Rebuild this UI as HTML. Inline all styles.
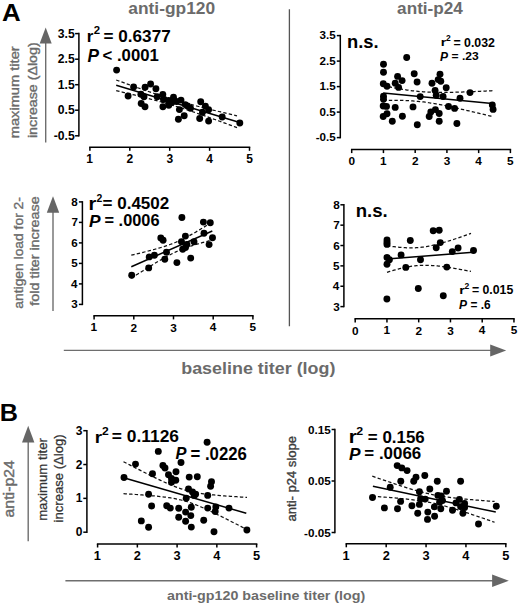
<!DOCTYPE html>
<html><head><meta charset="utf-8"><style>
html,body{margin:0;padding:0;background:#fff;}
svg{display:block;font-family:"Liberation Sans",sans-serif;}
</style></head><body>
<svg width="520" height="605" viewBox="0 0 520 605">
<rect width="520" height="605" fill="#fff"/>
<text transform="matrix(1.08 0 0 1 2.06 20.8)" font-size="23.98" font-weight="bold" fill="#000">A</text>
<text transform="matrix(1.02 0 0 1 -0.19 421.2)" font-size="24.71" font-weight="bold" fill="#000">B</text>
<text transform="matrix(1.06 0 0 1 128.3 13.7)" font-size="16.4" font-weight="bold" fill="#6b6b6b">anti-gp120</text>
<text transform="matrix(1.06 0 0 1 397.1 13.5)" font-size="16.2" font-weight="bold" fill="#6b6b6b">anti-p24</text>
<line x1="289.4" y1="9.2" x2="289.4" y2="326.2" stroke="#555" stroke-width="1.3"/>
<line x1="78.9" y1="32.85" x2="78.9" y2="136.55" stroke="#000" stroke-width="1.5"/>
<line x1="75.1" y1="33.6" x2="78.9" y2="33.6" stroke="#000" stroke-width="1.5"/>
<text transform="matrix(1 0 0 1 57.78 37.79)" font-size="12.2" font-weight="bold" fill="#000">3.5</text>
<line x1="75.1" y1="59.2" x2="78.9" y2="59.2" stroke="#000" stroke-width="1.5"/>
<text transform="matrix(1 0 0 1 57.78 63.4)" font-size="12.2" font-weight="bold" fill="#000">2.5</text>
<line x1="75.1" y1="84.7" x2="78.9" y2="84.7" stroke="#000" stroke-width="1.5"/>
<text transform="matrix(1 0 0 1 57.78 88.84)" font-size="12.2" font-weight="bold" fill="#000">1.5</text>
<line x1="75.1" y1="110.2" x2="78.9" y2="110.2" stroke="#000" stroke-width="1.5"/>
<text transform="matrix(1 0 0 1 57.78 114.4)" font-size="12.2" font-weight="bold" fill="#000">0.5</text>
<line x1="75.1" y1="135.8" x2="78.9" y2="135.8" stroke="#000" stroke-width="1.5"/>
<text transform="matrix(1 0 0 1 53.72 140)" font-size="12.2" font-weight="bold" fill="#000">-0.5</text>
<line x1="89.15" y1="147.2" x2="250.25" y2="147.2" stroke="#000" stroke-width="1.5"/>
<line x1="89.9" y1="147.2" x2="89.9" y2="150.8" stroke="#000" stroke-width="1.5"/>
<text transform="matrix(1 0 0 1 86.35 162.76)" font-size="12" font-weight="bold" fill="#000">1</text>
<line x1="129.8" y1="147.2" x2="129.8" y2="150.8" stroke="#000" stroke-width="1.5"/>
<text transform="matrix(1 0 0 1 126.49 162.88)" font-size="12" font-weight="bold" fill="#000">2</text>
<line x1="169.7" y1="147.2" x2="169.7" y2="150.8" stroke="#000" stroke-width="1.5"/>
<text transform="matrix(1 0 0 1 166.44 162.88)" font-size="12" font-weight="bold" fill="#000">3</text>
<line x1="209.6" y1="147.2" x2="209.6" y2="150.8" stroke="#000" stroke-width="1.5"/>
<text transform="matrix(1 0 0 1 206.2 162.76)" font-size="12" font-weight="bold" fill="#000">4</text>
<line x1="249.5" y1="147.2" x2="249.5" y2="150.8" stroke="#000" stroke-width="1.5"/>
<text transform="matrix(1 0 0 1 246.15 162.76)" font-size="12" font-weight="bold" fill="#000">5</text>
<line x1="45.7" y1="42.5" x2="45.7" y2="142.5" stroke="#6e6e6e" stroke-width="1.4"/>
<polygon points="45.7,27.4 39.7,43.5 51.7,43.5" fill="#666666"/>
<text transform="translate(19.3 138.27) rotate(-90) scale(1.11 1)" font-size="13.2" font-weight="normal" fill="#6b6b6b" stroke="#6b6b6b" stroke-width="0.35">maximum titer</text>
<text transform="translate(37.2 138.05) rotate(-90) scale(1.13 1)" font-size="12.6" font-weight="normal" fill="#6b6b6b" stroke="#6b6b6b" stroke-width="0.35">increase (Δlog)</text>
<text transform="matrix(1.06 0 0 1 86.79 41.7)" font-size="15.96" font-weight="bold" fill="#000">r</text>
<text transform="matrix(1.02 0 0 1 93.8 34.2)" font-size="11.17" font-weight="bold" fill="#000">2</text>
<text transform="matrix(1.02 0 0 1 103.6 41.62)" font-size="16.78" font-weight="bold" fill="#000">= 0.6377</text>
<text transform="matrix(0.98 0 0 1 87.59 61.7)" font-size="17.59" font-weight="bold" font-style="italic" fill="#000">P</text>
<text transform="matrix(0.98 0 0 1 102.5 61.23)" font-size="17.09" font-weight="bold" fill="#000">&lt; .0001</text>
<polyline points="116.2,80 118.21,80.74 120.23,81.47 122.24,82.2 124.25,82.93 126.27,83.66 128.28,84.39 130.29,85.11 132.31,85.83 134.32,86.55 136.33,87.27 138.35,87.98 140.36,88.69 142.37,89.39 144.39,90.09 146.4,90.79 148.41,91.48 150.43,92.17 152.44,92.85 154.45,93.52 156.47,94.19 158.48,94.85 160.49,95.51 162.51,96.16 164.52,96.8 166.53,97.43 168.55,98.06 170.56,98.67 172.57,99.28 174.59,99.88 176.6,100.47 178.61,101.06 180.63,101.63 182.64,102.2 184.65,102.76 186.67,103.31 188.68,103.86 190.69,104.4 192.71,104.93 194.72,105.46 196.73,105.99 198.75,106.51 200.76,107.02 202.77,107.53 204.79,108.04 206.8,108.54 208.81,109.04 210.83,109.53 212.84,110.02 214.85,110.51 216.87,111 218.88,111.49 220.89,111.97 222.91,112.45 224.92,112.93 226.93,113.41 228.95,113.89 230.96,114.36 232.97,114.84 234.99,115.31 237,115.78" fill="none" stroke="#111" stroke-width="1.25" stroke-dasharray="3.4 2.2"/>
<polyline points="116.2,90.6 118.21,91.08 120.23,91.56 122.24,92.04 124.25,92.52 126.27,93 128.28,93.49 130.29,93.98 132.31,94.47 134.32,94.97 136.33,95.46 138.35,95.96 140.36,96.47 142.37,96.98 144.39,97.49 146.4,98 148.41,98.53 150.43,99.05 152.44,99.58 154.45,100.12 156.47,100.67 158.48,101.22 160.49,101.77 162.51,102.34 164.52,102.91 166.53,103.49 168.55,104.08 170.56,104.68 172.57,105.28 174.59,105.89 176.6,106.51 178.61,107.14 180.63,107.78 182.64,108.43 184.65,109.08 186.67,109.74 188.68,110.4 190.69,111.08 192.71,111.76 194.72,112.44 196.73,113.13 198.75,113.82 200.76,114.52 202.77,115.23 204.79,115.93 206.8,116.64 208.81,117.36 210.83,118.07 212.84,118.79 214.85,119.52 216.87,120.24 218.88,120.97 220.89,121.7 222.91,122.43 224.92,123.16 226.93,123.9 228.95,124.64 230.96,125.37 232.97,126.11 234.99,126.85 237,127.59" fill="none" stroke="#111" stroke-width="1.25" stroke-dasharray="3.4 2.2"/>
<line x1="116.2" y1="85.3" x2="239.7" y2="122.5" stroke="#000" stroke-width="1.5"/>
<g fill="#000"><circle cx="116.6" cy="70.1" r="3.45"/><circle cx="133.6" cy="87" r="3.45"/><circle cx="128.1" cy="96" r="3.45"/><circle cx="145.1" cy="87.3" r="3.45"/><circle cx="150.6" cy="84" r="3.45"/><circle cx="155.9" cy="88.8" r="3.45"/><circle cx="140.9" cy="94.3" r="3.45"/><circle cx="144" cy="96.8" r="3.45"/><circle cx="141.2" cy="103.5" r="3.45"/><circle cx="145" cy="106.7" r="3.45"/><circle cx="157.2" cy="96.7" r="3.45"/><circle cx="162.8" cy="94.5" r="3.45"/><circle cx="163.5" cy="99.5" r="3.45"/><circle cx="162.9" cy="106.7" r="3.45"/><circle cx="168.5" cy="100.5" r="3.45"/><circle cx="168.8" cy="105.2" r="3.45"/><circle cx="173.5" cy="97.2" r="3.45"/><circle cx="171.8" cy="102.5" r="3.45"/><circle cx="176.5" cy="101.5" r="3.45"/><circle cx="181" cy="100.1" r="3.45"/><circle cx="185.2" cy="104.6" r="3.45"/><circle cx="179.4" cy="109.6" r="3.45"/><circle cx="184.2" cy="115.7" r="3.45"/><circle cx="178.4" cy="119.3" r="3.45"/><circle cx="190.5" cy="108.2" r="3.45"/><circle cx="187.5" cy="106" r="3.45"/><circle cx="200.7" cy="101.7" r="3.45"/><circle cx="205.4" cy="106.1" r="3.45"/><circle cx="208.6" cy="109.8" r="3.45"/><circle cx="202.5" cy="112.2" r="3.45"/><circle cx="199.7" cy="118.5" r="3.45"/><circle cx="208.6" cy="121.1" r="3.45"/><circle cx="222.2" cy="117" r="3.45"/><circle cx="239.8" cy="123" r="3.45"/></g>
<line x1="340.3" y1="34.85" x2="340.3" y2="138.35" stroke="#000" stroke-width="1.5"/>
<line x1="336.8" y1="35.6" x2="340.3" y2="35.6" stroke="#000" stroke-width="1.5"/>
<text transform="matrix(1 0 0 1 319.5 39.28)" font-size="11.6" font-weight="bold" fill="#000">3.5</text>
<line x1="336.8" y1="61.1" x2="340.3" y2="61.1" stroke="#000" stroke-width="1.5"/>
<text transform="matrix(1 0 0 1 319.5 64.79)" font-size="11.6" font-weight="bold" fill="#000">2.5</text>
<line x1="336.8" y1="86.6" x2="340.3" y2="86.6" stroke="#000" stroke-width="1.5"/>
<text transform="matrix(1 0 0 1 319.5 90.23)" font-size="11.6" font-weight="bold" fill="#000">1.5</text>
<line x1="336.8" y1="112.1" x2="340.3" y2="112.1" stroke="#000" stroke-width="1.5"/>
<text transform="matrix(1 0 0 1 319.5 115.79)" font-size="11.6" font-weight="bold" fill="#000">0.5</text>
<line x1="336.8" y1="137.6" x2="340.3" y2="137.6" stroke="#000" stroke-width="1.5"/>
<text transform="matrix(1 0 0 1 315.64 141.29)" font-size="11.6" font-weight="bold" fill="#000">-0.5</text>
<line x1="350.95" y1="149.5" x2="511.15" y2="149.5" stroke="#000" stroke-width="1.5"/>
<line x1="351.7" y1="149.5" x2="351.7" y2="153.1" stroke="#000" stroke-width="1.5"/>
<text transform="matrix(1 0 0 1 348.43 165.24)" font-size="11.8" font-weight="bold" fill="#000">0</text>
<line x1="383.44" y1="149.5" x2="383.44" y2="153.1" stroke="#000" stroke-width="1.5"/>
<text transform="matrix(1 0 0 1 379.95 165.12)" font-size="11.8" font-weight="bold" fill="#000">1</text>
<line x1="415.18" y1="149.5" x2="415.18" y2="153.1" stroke="#000" stroke-width="1.5"/>
<text transform="matrix(1 0 0 1 411.93 165.24)" font-size="11.8" font-weight="bold" fill="#000">2</text>
<line x1="446.92" y1="149.5" x2="446.92" y2="153.1" stroke="#000" stroke-width="1.5"/>
<text transform="matrix(1 0 0 1 443.72 165.24)" font-size="11.8" font-weight="bold" fill="#000">3</text>
<line x1="478.66" y1="149.5" x2="478.66" y2="153.1" stroke="#000" stroke-width="1.5"/>
<text transform="matrix(1 0 0 1 475.32 165.12)" font-size="11.8" font-weight="bold" fill="#000">4</text>
<line x1="510.4" y1="149.5" x2="510.4" y2="153.1" stroke="#000" stroke-width="1.5"/>
<text transform="matrix(1 0 0 1 507.1 165.12)" font-size="11.8" font-weight="bold" fill="#000">5</text>
<text transform="matrix(1.01 0 0 1 346.98 47.62)" font-size="18.21" font-weight="bold" fill="#000">n.s.</text>
<text transform="matrix(1.21 0 0 1 440.82 46.4)" font-size="11.69" font-weight="bold" fill="#000">r</text>
<text transform="matrix(0.9 0 0 1 446 41.2)" font-size="9.46" font-weight="bold" fill="#000">2</text>
<text transform="matrix(1.03 0 0 1 453.39 46.57)" font-size="11.99" font-weight="bold" fill="#000">= 0.032</text>
<text transform="matrix(0.92 0 0 1 440.08 60.9)" font-size="13.08" font-weight="bold" font-style="italic" fill="#000">P</text>
<text transform="matrix(1.03 0 0 1 451.61 60.27)" font-size="11.71" font-weight="bold" fill="#000">= .23</text>
<polyline points="383.2,85.52 385.03,85.91 386.86,86.3 388.69,86.68 390.52,87.05 392.35,87.42 394.18,87.78 396.01,88.13 397.84,88.47 399.67,88.81 401.5,89.13 403.33,89.43 405.16,89.73 406.99,90.01 408.82,90.28 410.65,90.53 412.48,90.77 414.31,90.99 416.14,91.19 417.97,91.38 419.8,91.55 421.63,91.7 423.46,91.84 425.29,91.96 427.12,92.06 428.95,92.15 430.78,92.23 432.61,92.29 434.44,92.33 436.27,92.37 438.1,92.39 439.93,92.41 441.76,92.41 443.59,92.41 445.42,92.4 447.25,92.38 449.08,92.35 450.91,92.32 452.74,92.29 454.57,92.24 456.4,92.2 458.23,92.15 460.06,92.09 461.89,92.03 463.72,91.97 465.55,91.9 467.38,91.84 469.21,91.77 471.04,91.69 472.87,91.62 474.7,91.54 476.53,91.46 478.36,91.38 480.19,91.3 482.02,91.21 483.85,91.13 485.68,91.04 487.51,90.95 489.34,90.86 491.17,90.77 493,90.68" fill="none" stroke="#111" stroke-width="1.25" stroke-dasharray="3.4 2.2"/>
<polyline points="383.2,100.48 385.03,100.45 386.86,100.41 388.69,100.39 390.52,100.37 392.35,100.36 394.18,100.35 396.01,100.36 397.84,100.37 399.67,100.4 401.5,100.43 403.33,100.48 405.16,100.54 406.99,100.61 408.82,100.7 410.65,100.81 412.48,100.92 414.31,101.06 416.14,101.21 417.97,101.38 419.8,101.57 421.63,101.77 423.46,101.99 425.29,102.23 427.12,102.48 428.95,102.75 430.78,103.03 432.61,103.32 434.44,103.63 436.27,103.95 438.1,104.28 439.93,104.63 441.76,104.98 443.59,105.34 445.42,105.7 447.25,106.08 449.08,106.46 450.91,106.85 452.74,107.24 454.57,107.64 456.4,108.04 458.23,108.45 460.06,108.86 461.89,109.27 463.72,109.69 465.55,110.11 467.38,110.54 469.21,110.96 471.04,111.39 472.87,111.82 474.7,112.26 476.53,112.69 478.36,113.13 480.19,113.57 482.02,114.01 483.85,114.45 485.68,114.89 487.51,115.34 489.34,115.78 491.17,116.23 493,116.68" fill="none" stroke="#111" stroke-width="1.25" stroke-dasharray="3.4 2.2"/>
<line x1="383.2" y1="93" x2="492.2" y2="103.6" stroke="#000" stroke-width="1.5"/>
<g fill="#000"><circle cx="406.7" cy="57.5" r="3.45"/><circle cx="383.5" cy="64.2" r="3.45"/><circle cx="383.5" cy="72.3" r="3.45"/><circle cx="414.2" cy="73.8" r="3.45"/><circle cx="397.6" cy="76.4" r="3.45"/><circle cx="402.1" cy="80.6" r="3.45"/><circle cx="417.1" cy="82" r="3.45"/><circle cx="383.3" cy="83.8" r="3.45"/><circle cx="387" cy="86.2" r="3.45"/><circle cx="395.2" cy="83.3" r="3.45"/><circle cx="398.6" cy="87.4" r="3.45"/><circle cx="440" cy="74.2" r="3.45"/><circle cx="438.2" cy="79.6" r="3.45"/><circle cx="440.8" cy="81.2" r="3.45"/><circle cx="432" cy="83.2" r="3.45"/><circle cx="446.2" cy="87.8" r="3.45"/><circle cx="435.1" cy="90.4" r="3.45"/><circle cx="436.2" cy="95.3" r="3.45"/><circle cx="443.1" cy="96.5" r="3.45"/><circle cx="420.2" cy="96.6" r="3.45"/><circle cx="460" cy="98.2" r="3.45"/><circle cx="470" cy="92.6" r="3.45"/><circle cx="492.3" cy="105" r="3.45"/><circle cx="493.1" cy="109.4" r="3.45"/><circle cx="383.5" cy="96.3" r="3.45"/><circle cx="383.5" cy="99.2" r="3.45"/><circle cx="383.2" cy="106" r="3.45"/><circle cx="386.5" cy="106.4" r="3.45"/><circle cx="395.2" cy="107.4" r="3.45"/><circle cx="413" cy="106.9" r="3.45"/><circle cx="448.5" cy="106.5" r="3.45"/><circle cx="454.6" cy="108.4" r="3.45"/><circle cx="435.4" cy="109.6" r="3.45"/><circle cx="430.8" cy="111.9" r="3.45"/><circle cx="439.2" cy="113.5" r="3.45"/><circle cx="429.2" cy="116.5" r="3.45"/><circle cx="383.2" cy="116.5" r="3.45"/><circle cx="387" cy="113.7" r="3.45"/><circle cx="402.4" cy="116.3" r="3.45"/><circle cx="392.3" cy="121.3" r="3.45"/><circle cx="417.3" cy="124.7" r="3.45"/><circle cx="439.2" cy="121.2" r="3.45"/><circle cx="456.9" cy="123.5" r="3.45"/></g>
<line x1="82.4" y1="201.15" x2="82.4" y2="305.15" stroke="#000" stroke-width="1.5"/>
<line x1="78.9" y1="201.9" x2="82.4" y2="201.9" stroke="#000" stroke-width="1.5"/>
<text transform="matrix(1 0 0 1 71.31 205.89)" font-size="11.6" font-weight="bold" fill="#000">8</text>
<line x1="78.9" y1="222.4" x2="82.4" y2="222.4" stroke="#000" stroke-width="1.5"/>
<text transform="matrix(1 0 0 1 71.46 226.39)" font-size="11.6" font-weight="bold" fill="#000">7</text>
<line x1="78.9" y1="242.9" x2="82.4" y2="242.9" stroke="#000" stroke-width="1.5"/>
<text transform="matrix(1 0 0 1 71.37 246.89)" font-size="11.6" font-weight="bold" fill="#000">6</text>
<line x1="78.9" y1="263.4" x2="82.4" y2="263.4" stroke="#000" stroke-width="1.5"/>
<text transform="matrix(1 0 0 1 71.28 267.33)" font-size="11.6" font-weight="bold" fill="#000">5</text>
<line x1="78.9" y1="283.9" x2="82.4" y2="283.9" stroke="#000" stroke-width="1.5"/>
<text transform="matrix(1 0 0 1 71.01 287.89)" font-size="11.6" font-weight="bold" fill="#000">4</text>
<line x1="78.9" y1="304.4" x2="82.4" y2="304.4" stroke="#000" stroke-width="1.5"/>
<text transform="matrix(1 0 0 1 71.37 308.38)" font-size="11.6" font-weight="bold" fill="#000">3</text>
<line x1="93.35" y1="315.8" x2="253.65" y2="315.8" stroke="#000" stroke-width="1.5"/>
<line x1="94.1" y1="315.8" x2="94.1" y2="319.4" stroke="#000" stroke-width="1.5"/>
<text transform="matrix(1 0 0 1 90.61 331.42)" font-size="11.8" font-weight="bold" fill="#000">1</text>
<line x1="133.8" y1="315.8" x2="133.8" y2="319.4" stroke="#000" stroke-width="1.5"/>
<text transform="matrix(1 0 0 1 130.55 331.54)" font-size="11.8" font-weight="bold" fill="#000">2</text>
<line x1="173.5" y1="315.8" x2="173.5" y2="319.4" stroke="#000" stroke-width="1.5"/>
<text transform="matrix(1 0 0 1 170.3 331.54)" font-size="11.8" font-weight="bold" fill="#000">3</text>
<line x1="213.2" y1="315.8" x2="213.2" y2="319.4" stroke="#000" stroke-width="1.5"/>
<text transform="matrix(1 0 0 1 209.86 331.42)" font-size="11.8" font-weight="bold" fill="#000">4</text>
<line x1="252.9" y1="315.8" x2="252.9" y2="319.4" stroke="#000" stroke-width="1.5"/>
<text transform="matrix(1 0 0 1 249.6 331.42)" font-size="11.8" font-weight="bold" fill="#000">5</text>
<line x1="53" y1="211.8" x2="53" y2="311" stroke="#6e6e6e" stroke-width="1.4"/>
<polygon points="53,196.3 46.8,212.8 59.2,212.8" fill="#666666"/>
<text transform="translate(22.7 308.68) rotate(-90) scale(1.05 1)" font-size="13.2" font-weight="normal" fill="#6b6b6b" stroke="#6b6b6b" stroke-width="0.35">antigen load for 2-</text>
<text transform="translate(38.9 305.7) rotate(-90) scale(1.15 1)" font-size="12.5" font-weight="normal" fill="#6b6b6b" stroke="#6b6b6b" stroke-width="0.35">fold titer increase</text>
<text transform="matrix(1.15 0 0 1 88.57 209.8)" font-size="17.44" font-weight="bold" fill="#000">r</text>
<text transform="matrix(0.9 0 0 1 96.44 202.4)" font-size="11.6" font-weight="bold" fill="#000">2</text>
<text transform="matrix(1.04 0 0 1 102.5 209.14)" font-size="16.38" font-weight="bold" fill="#000">= 0.4502</text>
<text transform="matrix(1.01 0 0 1 88.89 227.3)" font-size="17.15" font-weight="bold" font-style="italic" fill="#000">P</text>
<text transform="matrix(0.99 0 0 1 104.53 226.13)" font-size="16.53" font-weight="bold" fill="#000">= .0006</text>
<polyline points="131.3,255.2 132.61,254.89 133.92,254.57 135.24,254.26 136.55,253.94 137.86,253.62 139.17,253.3 140.48,252.98 141.79,252.66 143.11,252.33 144.42,252 145.73,251.67 147.04,251.33 148.35,251 149.66,250.65 150.98,250.31 152.29,249.96 153.6,249.6 154.91,249.24 156.22,248.88 157.53,248.5 158.84,248.12 160.16,247.74 161.47,247.34 162.78,246.94 164.09,246.53 165.4,246.1 166.72,245.67 168.03,245.22 169.34,244.76 170.65,244.28 171.96,243.79 173.27,243.29 174.59,242.76 175.9,242.22 177.21,241.66 178.52,241.09 179.83,240.49 181.14,239.88 182.46,239.25 183.77,238.61 185.08,237.94 186.39,237.27 187.7,236.57 189.01,235.87 190.32,235.15 191.64,234.42 192.95,233.68 194.26,232.93 195.57,232.17 196.88,231.4 198.19,230.62 199.51,229.84 200.82,229.05 202.13,228.26 203.44,227.46 204.75,226.65 206.06,225.84 207.38,225.03 208.69,224.21 210,223.39" fill="none" stroke="#111" stroke-width="1.25" stroke-dasharray="3.4 2.2"/>
<polyline points="131.3,278.2 132.61,277.36 133.92,276.51 135.24,275.67 136.55,274.83 137.86,273.99 139.17,273.16 140.48,272.32 141.79,271.49 143.11,270.66 144.42,269.84 145.73,269.01 147.04,268.19 148.35,267.37 149.66,266.56 150.98,265.75 152.29,264.94 153.6,264.14 154.91,263.35 156.22,262.56 157.53,261.77 158.84,261 160.16,260.23 161.47,259.46 162.78,258.71 164.09,257.97 165.4,257.24 166.72,256.51 168.03,255.81 169.34,255.11 170.65,254.43 171.96,253.77 173.27,253.12 174.59,252.48 175.9,251.87 177.21,251.27 178.52,250.69 179.83,250.13 181.14,249.58 182.46,249.06 183.77,248.55 185.08,248.05 186.39,247.57 187.7,247.11 189.01,246.66 190.32,246.22 191.64,245.8 192.95,245.38 194.26,244.97 195.57,244.58 196.88,244.19 198.19,243.81 199.51,243.44 200.82,243.07 202.13,242.71 203.44,242.35 204.75,242 206.06,241.65 207.38,241.31 208.69,240.97 210,240.63" fill="none" stroke="#111" stroke-width="1.25" stroke-dasharray="3.4 2.2"/>
<line x1="131.3" y1="266.7" x2="212.3" y2="231" stroke="#000" stroke-width="1.5"/>
<g fill="#000"><circle cx="181.9" cy="217.5" r="3.45"/><circle cx="203.4" cy="222.1" r="3.45"/><circle cx="210.3" cy="222.7" r="3.45"/><circle cx="160.8" cy="237.9" r="3.45"/><circle cx="163.1" cy="240.2" r="3.45"/><circle cx="185.4" cy="236.1" r="3.45"/><circle cx="204" cy="233.3" r="3.45"/><circle cx="212.5" cy="237.8" r="3.45"/><circle cx="194" cy="241.7" r="3.45"/><circle cx="209.1" cy="244.6" r="3.45"/><circle cx="181.5" cy="241.7" r="3.45"/><circle cx="186.9" cy="244.4" r="3.45"/><circle cx="182.7" cy="249.2" r="3.45"/><circle cx="185.5" cy="247.5" r="3.45"/><circle cx="166.5" cy="252.3" r="3.45"/><circle cx="154.4" cy="255.2" r="3.45"/><circle cx="149.2" cy="256.9" r="3.45"/><circle cx="164.8" cy="259.2" r="3.45"/><circle cx="190.7" cy="258.1" r="3.45"/><circle cx="176.9" cy="262.6" r="3.45"/><circle cx="148.7" cy="267.9" r="3.45"/><circle cx="131.7" cy="275.2" r="3.45"/></g>
<line x1="343.9" y1="204.05" x2="343.9" y2="307.35" stroke="#000" stroke-width="1.5"/>
<line x1="340.4" y1="204.8" x2="343.9" y2="204.8" stroke="#000" stroke-width="1.5"/>
<text transform="matrix(1 0 0 1 333.16 209.02)" font-size="11.7" font-weight="bold" fill="#000">8</text>
<line x1="340.4" y1="225.16" x2="343.9" y2="225.16" stroke="#000" stroke-width="1.5"/>
<text transform="matrix(1 0 0 1 333.31 229.38)" font-size="11.7" font-weight="bold" fill="#000">7</text>
<line x1="340.4" y1="245.52" x2="343.9" y2="245.52" stroke="#000" stroke-width="1.5"/>
<text transform="matrix(1 0 0 1 333.22 249.74)" font-size="11.7" font-weight="bold" fill="#000">6</text>
<line x1="340.4" y1="265.88" x2="343.9" y2="265.88" stroke="#000" stroke-width="1.5"/>
<text transform="matrix(1 0 0 1 333.12 270.05)" font-size="11.7" font-weight="bold" fill="#000">5</text>
<line x1="340.4" y1="286.24" x2="343.9" y2="286.24" stroke="#000" stroke-width="1.5"/>
<text transform="matrix(1 0 0 1 332.85 290.46)" font-size="11.7" font-weight="bold" fill="#000">4</text>
<line x1="340.4" y1="306.6" x2="343.9" y2="306.6" stroke="#000" stroke-width="1.5"/>
<text transform="matrix(1 0 0 1 333.22 310.82)" font-size="11.7" font-weight="bold" fill="#000">3</text>
<line x1="354.45" y1="318.8" x2="514.7" y2="318.8" stroke="#000" stroke-width="1.5"/>
<line x1="355.2" y1="318.8" x2="355.2" y2="322.4" stroke="#000" stroke-width="1.5"/>
<text transform="matrix(1 0 0 1 351.93 334.54)" font-size="11.8" font-weight="bold" fill="#000">0</text>
<line x1="386.95" y1="318.8" x2="386.95" y2="322.4" stroke="#000" stroke-width="1.5"/>
<text transform="matrix(1 0 0 1 383.46 334.42)" font-size="11.8" font-weight="bold" fill="#000">1</text>
<line x1="418.7" y1="318.8" x2="418.7" y2="322.4" stroke="#000" stroke-width="1.5"/>
<text transform="matrix(1 0 0 1 415.45 334.54)" font-size="11.8" font-weight="bold" fill="#000">2</text>
<line x1="450.45" y1="318.8" x2="450.45" y2="322.4" stroke="#000" stroke-width="1.5"/>
<text transform="matrix(1 0 0 1 447.25 334.54)" font-size="11.8" font-weight="bold" fill="#000">3</text>
<line x1="482.2" y1="318.8" x2="482.2" y2="322.4" stroke="#000" stroke-width="1.5"/>
<text transform="matrix(1 0 0 1 478.86 334.42)" font-size="11.8" font-weight="bold" fill="#000">4</text>
<line x1="513.95" y1="318.8" x2="513.95" y2="322.4" stroke="#000" stroke-width="1.5"/>
<text transform="matrix(1 0 0 1 510.65 334.42)" font-size="11.8" font-weight="bold" fill="#000">5</text>
<text transform="matrix(1 0 0 1 355.77 217.31)" font-size="18.58" font-weight="bold" fill="#000">n.s.</text>
<text transform="matrix(1.22 0 0 1 459.36 293.8)" font-size="11.69" font-weight="bold" fill="#000">r</text>
<text transform="matrix(1.03 0 0 1 464.6 288.7)" font-size="8.31" font-weight="bold" fill="#000">2</text>
<text transform="matrix(1.04 0 0 1 471.89 294.08)" font-size="11.86" font-weight="bold" fill="#000">= 0.015</text>
<text transform="matrix(0.95 0 0 1 458.98 308.6)" font-size="12.65" font-weight="bold" font-style="italic" fill="#000">P</text>
<text transform="matrix(1 0 0 1 470.51 308.68)" font-size="11.86" font-weight="bold" fill="#000">= .6</text>
<polyline points="387,245.7 388.4,245.92 389.8,246.12 391.2,246.32 392.6,246.51 394,246.69 395.4,246.86 396.8,247.02 398.2,247.17 399.6,247.31 401,247.43 402.4,247.54 403.8,247.64 405.2,247.72 406.6,247.78 408,247.83 409.4,247.86 410.8,247.87 412.2,247.85 413.6,247.82 415,247.77 416.4,247.7 417.8,247.6 419.2,247.49 420.6,247.35 422,247.19 423.4,247.01 424.8,246.81 426.2,246.58 427.6,246.34 429,246.08 430.4,245.81 431.8,245.51 433.2,245.21 434.6,244.88 436,244.54 437.4,244.19 438.8,243.83 440.2,243.45 441.6,243.07 443,242.67 444.4,242.27 445.8,241.85 447.2,241.43 448.6,241 450,240.57 451.4,240.13 452.8,239.68 454.2,239.22 455.6,238.76 457,238.3 458.4,237.83 459.8,237.36 461.2,236.89 462.6,236.41 464,235.92 465.4,235.44 466.8,234.95 468.2,234.46 469.6,233.96 471,233.46" fill="none" stroke="#111" stroke-width="1.25" stroke-dasharray="3.4 2.2"/>
<polyline points="387,272.3 388.4,271.87 389.8,271.44 391.2,271.03 392.6,270.62 394,270.22 395.4,269.83 396.8,269.45 398.2,269.09 399.6,268.73 401,268.39 402.4,268.06 403.8,267.75 405.2,267.45 406.6,267.17 408,266.9 409.4,266.66 410.8,266.43 412.2,266.22 413.6,266.04 415,265.87 416.4,265.73 417.8,265.6 419.2,265.5 420.6,265.42 422,265.36 423.4,265.33 424.8,265.31 426.2,265.31 427.6,265.34 429,265.38 430.4,265.44 431.8,265.51 433.2,265.6 434.6,265.71 436,265.83 437.4,265.96 438.8,266.11 440.2,266.27 441.6,266.44 443,266.61 444.4,266.8 445.8,267 447.2,267.2 448.6,267.41 450,267.63 451.4,267.85 452.8,268.08 454.2,268.32 455.6,268.56 457,268.8 458.4,269.05 459.8,269.31 461.2,269.57 462.6,269.83 464,270.09 465.4,270.36 466.8,270.63 468.2,270.91 469.6,271.18 471,271.46" fill="none" stroke="#111" stroke-width="1.25" stroke-dasharray="3.4 2.2"/>
<line x1="387" y1="259" x2="473.1" y2="252.3" stroke="#000" stroke-width="1.5"/>
<g fill="#000"><circle cx="387" cy="240" r="3.45"/><circle cx="387" cy="242.5" r="3.45"/><circle cx="387" cy="244.4" r="3.45"/><circle cx="410.3" cy="240.5" r="3.45"/><circle cx="433.2" cy="230.7" r="3.45"/><circle cx="439.2" cy="230.3" r="3.45"/><circle cx="440.3" cy="242.6" r="3.45"/><circle cx="436.2" cy="247.7" r="3.45"/><circle cx="387" cy="257.4" r="3.45"/><circle cx="389.4" cy="259.8" r="3.45"/><circle cx="387" cy="264.2" r="3.45"/><circle cx="401.1" cy="254.9" r="3.45"/><circle cx="420.5" cy="259.8" r="3.45"/><circle cx="405.8" cy="267.4" r="3.45"/><circle cx="446.8" cy="267.1" r="3.45"/><circle cx="452.3" cy="251.6" r="3.45"/><circle cx="458.1" cy="248" r="3.45"/><circle cx="473.5" cy="250.5" r="3.45"/><circle cx="418.3" cy="288.5" r="3.45"/><circle cx="443.3" cy="295.8" r="3.45"/><circle cx="386.9" cy="299" r="3.45"/></g>
<line x1="63.8" y1="350.4" x2="491.2" y2="350.4" stroke="#6e6e6e" stroke-width="1.4"/>
<polygon points="506.2,350.4 490.2,344.4 490.2,356.4" fill="#666666"/>
<text transform="matrix(1.1 0 0 1 181.22 374)" font-size="16.28" font-weight="bold" fill="#6b6b6b">baseline titer (log)</text>
<line x1="28.2" y1="441.4" x2="28.2" y2="541.3" stroke="#6e6e6e" stroke-width="1.4"/>
<polygon points="28.2,425.8 22,442.4 34.4,442.4" fill="#666666"/>
<text transform="translate(13.9 517.47) rotate(-90) scale(1.13 1)" font-size="14.07" font-weight="normal" fill="#6b6b6b" stroke="#6b6b6b" stroke-width="0.4">anti-p24</text>
<line x1="86.9" y1="429.95" x2="86.9" y2="532.94" stroke="#000" stroke-width="1.5"/>
<line x1="83.3" y1="430.7" x2="86.9" y2="430.7" stroke="#000" stroke-width="1.5"/>
<text transform="matrix(1 0 0 1 75.76 434.82)" font-size="12" font-weight="bold" fill="#000">3</text>
<line x1="83.3" y1="464.53" x2="86.9" y2="464.53" stroke="#000" stroke-width="1.5"/>
<text transform="matrix(1 0 0 1 75.81 468.72)" font-size="12" font-weight="bold" fill="#000">2</text>
<line x1="83.3" y1="498.36" x2="86.9" y2="498.36" stroke="#000" stroke-width="1.5"/>
<text transform="matrix(1 0 0 1 75.66 502.49)" font-size="12" font-weight="bold" fill="#000">1</text>
<line x1="83.3" y1="532.19" x2="86.9" y2="532.19" stroke="#000" stroke-width="1.5"/>
<text transform="matrix(1 0 0 1 75.82 536.32)" font-size="12" font-weight="bold" fill="#000">0</text>
<line x1="96.85" y1="543.9" x2="257.35" y2="543.9" stroke="#000" stroke-width="1.5"/>
<line x1="97.6" y1="543.9" x2="97.6" y2="547.5" stroke="#000" stroke-width="1.5"/>
<text transform="matrix(1 0 0 1 93.82 560.01)" font-size="12.8" font-weight="bold" fill="#000">1</text>
<line x1="137.35" y1="543.9" x2="137.35" y2="547.5" stroke="#000" stroke-width="1.5"/>
<text transform="matrix(1 0 0 1 133.82 560.13)" font-size="12.8" font-weight="bold" fill="#000">2</text>
<line x1="177.1" y1="543.9" x2="177.1" y2="547.5" stroke="#000" stroke-width="1.5"/>
<text transform="matrix(1 0 0 1 173.62 560.13)" font-size="12.8" font-weight="bold" fill="#000">3</text>
<line x1="216.85" y1="543.9" x2="216.85" y2="547.5" stroke="#000" stroke-width="1.5"/>
<text transform="matrix(1 0 0 1 213.23 560.01)" font-size="12.8" font-weight="bold" fill="#000">4</text>
<line x1="256.6" y1="543.9" x2="256.6" y2="547.5" stroke="#000" stroke-width="1.5"/>
<text transform="matrix(1 0 0 1 253.02 560.01)" font-size="12.8" font-weight="bold" fill="#000">5</text>
<text transform="translate(46.8 520.87) rotate(-90) scale(1.1 1)" font-size="12" font-weight="normal" fill="#333" stroke="#333" stroke-width="0.25">maximum titer</text>
<text transform="translate(62.9 522.38) rotate(-90) scale(1.09 1)" font-size="12" font-weight="normal" fill="#333" stroke="#333" stroke-width="0.25">increase (Δlog)</text>
<text transform="matrix(1.12 0 0 1 94.76 442.5)" font-size="16.88" font-weight="bold" fill="#000">r</text>
<text transform="matrix(1.14 0 0 1 101.98 435.4)" font-size="10.6" font-weight="bold" fill="#000">2</text>
<text transform="matrix(1.1 0 0 1 111.79 442.24)" font-size="15.82" font-weight="bold" fill="#000">= 0.1126</text>
<text transform="matrix(0.95 0 0 1 175.5 459.3)" font-size="17.3" font-weight="bold" font-style="italic" fill="#000">P</text>
<text transform="matrix(0.95 0 0 1 190.51 459.62)" font-size="17.66" font-weight="bold" fill="#000">= .0226</text>
<polyline points="123.5,461.71 125.56,462.78 127.62,463.84 129.68,464.91 131.73,465.97 133.79,467.03 135.85,468.08 137.91,469.13 139.97,470.18 142.03,471.23 144.08,472.27 146.14,473.3 148.2,474.33 150.26,475.35 152.32,476.37 154.38,477.37 156.43,478.37 158.49,479.35 160.55,480.33 162.61,481.29 164.67,482.23 166.72,483.15 168.78,484.06 170.84,484.93 172.9,485.78 174.96,486.6 177.02,487.38 179.07,488.13 181.13,488.83 183.19,489.49 185.25,490.11 187.31,490.67 189.37,491.2 191.43,491.68 193.48,492.12 195.54,492.52 197.6,492.88 199.66,493.22 201.72,493.53 203.78,493.81 205.83,494.08 207.89,494.32 209.95,494.56 212.01,494.77 214.07,494.98 216.12,495.17 218.18,495.35 220.24,495.53 222.3,495.7 224.36,495.86 226.42,496.02 228.47,496.17 230.53,496.32 232.59,496.46 234.65,496.61 236.71,496.74 238.77,496.88 240.82,497.01 242.88,497.14 244.94,497.26 247,497.39" fill="none" stroke="#111" stroke-width="1.25" stroke-dasharray="3.4 2.2"/>
<polyline points="123.5,493.71 125.56,493.84 127.62,493.96 129.68,494.09 131.73,494.22 133.79,494.36 135.85,494.5 137.91,494.64 139.97,494.78 142.03,494.93 144.08,495.09 146.14,495.24 148.2,495.41 150.26,495.58 152.32,495.76 154.38,495.94 156.43,496.14 158.49,496.35 160.55,496.57 162.61,496.8 164.67,497.05 166.72,497.32 168.78,497.61 170.84,497.93 172.9,498.27 174.96,498.65 177.02,499.06 179.07,499.5 181.13,499.99 183.19,500.53 185.25,501.11 187.31,501.73 189.37,502.4 191.43,503.12 193.48,503.87 195.54,504.66 197.6,505.49 199.66,506.35 201.72,507.23 203.78,508.14 205.83,509.07 207.89,510.01 209.95,510.98 212.01,511.95 214.07,512.94 216.12,513.94 218.18,514.95 220.24,515.96 222.3,516.99 224.36,518.02 226.42,519.05 228.47,520.09 230.53,521.14 232.59,522.19 234.65,523.24 236.71,524.3 238.77,525.36 240.82,526.42 242.88,527.48 244.94,528.55 247,529.62" fill="none" stroke="#111" stroke-width="1.25" stroke-dasharray="3.4 2.2"/>
<line x1="124.5" y1="478" x2="246.3" y2="513.3" stroke="#000" stroke-width="1.5"/>
<g fill="#000"><circle cx="207.1" cy="442.3" r="3.45"/><circle cx="158.3" cy="451.4" r="3.45"/><circle cx="135.5" cy="464.1" r="3.45"/><circle cx="124" cy="477.5" r="3.45"/><circle cx="162.9" cy="465.4" r="3.45"/><circle cx="165" cy="468" r="3.45"/><circle cx="152.5" cy="473.7" r="3.45"/><circle cx="168.5" cy="474.7" r="3.45"/><circle cx="171.5" cy="478.5" r="3.45"/><circle cx="171.5" cy="482.3" r="3.45"/><circle cx="181" cy="462.5" r="3.45"/><circle cx="176" cy="471.8" r="3.45"/><circle cx="175.8" cy="480.2" r="3.45"/><circle cx="189.2" cy="477.1" r="3.45"/><circle cx="197.3" cy="476.7" r="3.45"/><circle cx="211.5" cy="481.7" r="3.45"/><circle cx="210.6" cy="486.2" r="3.45"/><circle cx="188.5" cy="489" r="3.45"/><circle cx="192.5" cy="491.9" r="3.45"/><circle cx="194.2" cy="495.4" r="3.45"/><circle cx="186.2" cy="498.3" r="3.45"/><circle cx="195.6" cy="494.2" r="3.45"/><circle cx="207.7" cy="495.4" r="3.45"/><circle cx="148.6" cy="494.2" r="3.45"/><circle cx="151.6" cy="506" r="3.45"/><circle cx="166.7" cy="505.8" r="3.45"/><circle cx="170.3" cy="508.1" r="3.45"/><circle cx="178.7" cy="508.3" r="3.45"/><circle cx="191.3" cy="507.2" r="3.45"/><circle cx="185.6" cy="512.1" r="3.45"/><circle cx="190.8" cy="515.6" r="3.45"/><circle cx="178.7" cy="517.3" r="3.45"/><circle cx="185.6" cy="521.3" r="3.45"/><circle cx="141.3" cy="520.9" r="3.45"/><circle cx="148.6" cy="527.3" r="3.45"/><circle cx="191.3" cy="527.1" r="3.45"/><circle cx="207.7" cy="508.1" r="3.45"/><circle cx="215.8" cy="506.9" r="3.45"/><circle cx="215.2" cy="511.5" r="3.45"/><circle cx="229" cy="508.1" r="3.45"/><circle cx="203.7" cy="520.2" r="3.45"/><circle cx="214" cy="531.7" r="3.45"/><circle cx="246.9" cy="530" r="3.45"/></g>
<line x1="334.9" y1="428.75" x2="334.9" y2="533.25" stroke="#000" stroke-width="1.5"/>
<line x1="331.6" y1="429.5" x2="334.9" y2="429.5" stroke="#000" stroke-width="1.5"/>
<text transform="matrix(1 0 0 1 307.96 433.52)" font-size="11.7" font-weight="bold" fill="#000">0.15</text>
<line x1="331.6" y1="481" x2="334.9" y2="481" stroke="#000" stroke-width="1.5"/>
<text transform="matrix(1 0 0 1 307.96 485.02)" font-size="11.7" font-weight="bold" fill="#000">0.05</text>
<line x1="331.6" y1="532.5" x2="334.9" y2="532.5" stroke="#000" stroke-width="1.5"/>
<text transform="matrix(1 0 0 1 304.06 536.52)" font-size="11.7" font-weight="bold" fill="#000">-0.05</text>
<line x1="345.55" y1="543.7" x2="506.57" y2="543.7" stroke="#000" stroke-width="1.5"/>
<line x1="346.3" y1="543.7" x2="346.3" y2="547.3" stroke="#000" stroke-width="1.5"/>
<text transform="matrix(1 0 0 1 342.52 559.81)" font-size="12.8" font-weight="bold" fill="#000">1</text>
<line x1="386.18" y1="543.7" x2="386.18" y2="547.3" stroke="#000" stroke-width="1.5"/>
<text transform="matrix(1 0 0 1 382.65 559.93)" font-size="12.8" font-weight="bold" fill="#000">2</text>
<line x1="426.06" y1="543.7" x2="426.06" y2="547.3" stroke="#000" stroke-width="1.5"/>
<text transform="matrix(1 0 0 1 422.58 559.93)" font-size="12.8" font-weight="bold" fill="#000">3</text>
<line x1="465.94" y1="543.7" x2="465.94" y2="547.3" stroke="#000" stroke-width="1.5"/>
<text transform="matrix(1 0 0 1 462.32 559.81)" font-size="12.8" font-weight="bold" fill="#000">4</text>
<line x1="505.82" y1="543.7" x2="505.82" y2="547.3" stroke="#000" stroke-width="1.5"/>
<text transform="matrix(1 0 0 1 502.24 559.81)" font-size="12.8" font-weight="bold" fill="#000">5</text>
<text transform="translate(295.9 521.45) rotate(-90) scale(1.05 1)" font-size="12.41" font-weight="normal" fill="#3a3a3a" stroke="#3a3a3a" stroke-width="0.35">anti- p24 slope</text>
<text transform="matrix(1.1 0 0 1 348.85 443.1)" font-size="18.55" font-weight="bold" fill="#000">r</text>
<text transform="matrix(1.07 0 0 1 356.26 435.4)" font-size="11.6" font-weight="bold" fill="#000">2</text>
<text transform="matrix(0.99 0 0 1 367.8 443.13)" font-size="17.09" font-weight="bold" fill="#000">= 0.156</text>
<text transform="matrix(1 0 0 1 348.89 459.6)" font-size="17.3" font-weight="bold" font-style="italic" fill="#000">P</text>
<text transform="matrix(0.99 0 0 1 364.31 459.23)" font-size="17.09" font-weight="bold" fill="#000">= .0066</text>
<polyline points="372.3,476.17 374.34,476.88 376.38,477.59 378.42,478.29 380.45,479 382.49,479.69 384.53,480.39 386.57,481.09 388.61,481.78 390.65,482.46 392.68,483.15 394.72,483.83 396.76,484.5 398.8,485.17 400.84,485.83 402.88,486.49 404.91,487.14 406.95,487.78 408.99,488.41 411.03,489.03 413.07,489.64 415.11,490.24 417.14,490.82 419.18,491.39 421.22,491.94 423.26,492.47 425.3,492.98 427.34,493.47 429.37,493.94 431.41,494.38 433.45,494.81 435.49,495.21 437.53,495.58 439.57,495.94 441.6,496.28 443.64,496.59 445.68,496.89 447.72,497.17 449.76,497.44 451.8,497.7 453.83,497.94 455.87,498.17 457.91,498.39 459.95,498.6 461.99,498.8 464.03,499 466.06,499.19 468.1,499.37 470.14,499.55 472.18,499.73 474.22,499.9 476.25,500.07 478.29,500.23 480.33,500.39 482.37,500.55 484.41,500.7 486.45,500.86 488.49,501.01 490.52,501.15 492.56,501.3 494.6,501.45" fill="none" stroke="#111" stroke-width="1.25" stroke-dasharray="3.4 2.2"/>
<polyline points="372.3,496.17 374.34,496.32 376.38,496.47 378.42,496.62 380.45,496.78 382.49,496.93 384.53,497.09 386.57,497.25 388.61,497.42 390.65,497.59 392.68,497.76 394.72,497.93 396.76,498.12 398.8,498.3 400.84,498.5 402.88,498.7 404.91,498.9 406.95,499.12 408.99,499.34 411.03,499.58 413.07,499.82 415.11,500.08 417.14,500.36 419.18,500.65 421.22,500.95 423.26,501.28 425.3,501.62 427.34,501.99 429.37,502.37 431.41,502.78 433.45,503.22 435.49,503.67 437.53,504.15 439.57,504.65 441.6,505.17 443.64,505.71 445.68,506.27 447.72,506.84 449.76,507.43 451.8,508.03 453.83,508.64 455.87,509.27 457.91,509.9 459.95,510.55 461.99,511.2 464.03,511.86 466.06,512.52 468.1,513.2 470.14,513.87 472.18,514.55 474.22,515.24 476.25,515.93 478.29,516.62 480.33,517.32 482.37,518.01 484.41,518.71 486.45,519.42 488.49,520.12 490.52,520.83 492.56,521.54 494.6,522.25" fill="none" stroke="#111" stroke-width="1.25" stroke-dasharray="3.4 2.2"/>
<line x1="372.9" y1="486.3" x2="495.8" y2="512.1" stroke="#000" stroke-width="1.5"/>
<g fill="#000"><circle cx="372.5" cy="497.5" r="3.45"/><circle cx="384.4" cy="507.9" r="3.45"/><circle cx="390.2" cy="487.2" r="3.45"/><circle cx="397.2" cy="465.6" r="3.45"/><circle cx="401.8" cy="467.9" r="3.45"/><circle cx="407.1" cy="470.6" r="3.45"/><circle cx="400.8" cy="481.3" r="3.45"/><circle cx="424.8" cy="475.5" r="3.45"/><circle cx="416" cy="477.2" r="3.45"/><circle cx="413.7" cy="481.3" r="3.45"/><circle cx="437.3" cy="481.3" r="3.45"/><circle cx="429.8" cy="489" r="3.45"/><circle cx="419.4" cy="491.7" r="3.45"/><circle cx="446.5" cy="491.3" r="3.45"/><circle cx="437.9" cy="495.4" r="3.45"/><circle cx="441.3" cy="496" r="3.45"/><circle cx="420.6" cy="498.8" r="3.45"/><circle cx="425.2" cy="499.1" r="3.45"/><circle cx="442.5" cy="500.6" r="3.45"/><circle cx="419.4" cy="504.4" r="3.45"/><circle cx="439.6" cy="502.3" r="3.45"/><circle cx="400.6" cy="501.4" r="3.45"/><circle cx="411.9" cy="505.8" r="3.45"/><circle cx="434.4" cy="506.9" r="3.45"/><circle cx="440.8" cy="508.7" r="3.45"/><circle cx="397.5" cy="508.7" r="3.45"/><circle cx="417.7" cy="513.3" r="3.45"/><circle cx="427.8" cy="512.1" r="3.45"/><circle cx="460.6" cy="481.3" r="3.45"/><circle cx="452.5" cy="510.2" r="3.45"/><circle cx="459.4" cy="499.4" r="3.45"/><circle cx="456" cy="502.9" r="3.45"/><circle cx="464.6" cy="503.5" r="3.45"/><circle cx="460.6" cy="506.7" r="3.45"/><circle cx="464.6" cy="507.5" r="3.45"/><circle cx="462.9" cy="513.3" r="3.45"/><circle cx="434.6" cy="516.2" r="3.45"/><circle cx="478.5" cy="524" r="3.45"/><circle cx="496.3" cy="506.3" r="3.45"/><circle cx="427.5" cy="519.4" r="3.45"/></g>
<line x1="65.4" y1="580.8" x2="493.1" y2="580.8" stroke="#6e6e6e" stroke-width="1.4"/>
<polygon points="508.8,580.8 492.1,574.55 492.1,587.05" fill="#666666"/>
<text transform="matrix(1.05 0 0 1 166.99 599.6)" font-size="13.6" font-weight="bold" fill="#6b6b6b">anti-gp120 baseline titer (log)</text>
</svg>
</body></html>
